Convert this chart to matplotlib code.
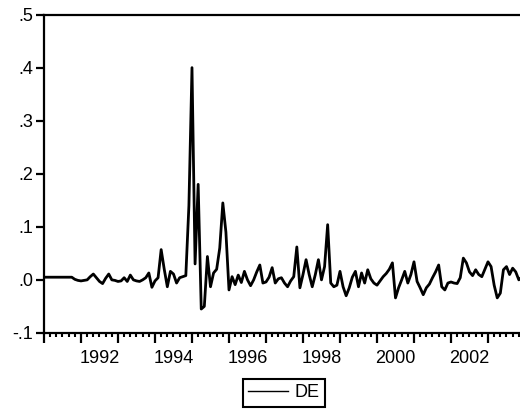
import numpy as np
import matplotlib
matplotlib.use("Agg")
import matplotlib.pyplot as plt
from matplotlib.ticker import FixedLocator

plt.rcParams['font.family'] = ['Liberation Sans', 'DejaVu Sans']

# monthly series DE, 1991M01 - 2003M12
start_year = 1991
de = [
    0.005, 0.005, 0.005, 0.005, 0.005, 0.005, 0.005, 0.005, 0.005, 0.005, 0.001, -0.001,
    -0.002, -0.001, 0.000, 0.006, 0.011, 0.004, -0.003, -0.007, 0.003, 0.011, 0.000, -0.001,
    -0.003, -0.002, 0.004, -0.003, 0.009, 0.000, -0.002, -0.003, 0.000, 0.004, 0.013, -0.014,
    -0.002, 0.004, 0.057, 0.020, -0.013, 0.016, 0.011, -0.006, 0.004, 0.006, 0.008, 0.140,
    0.400, 0.030, 0.180, -0.055, -0.050, 0.044, -0.013, 0.013, 0.020, 0.060, 0.145, 0.090,
    -0.019, 0.006, -0.009, 0.009, -0.005, 0.016, 0.000, -0.011, 0.000, 0.015, 0.028, -0.006,
    -0.004, 0.005, 0.023, -0.006, 0.002, 0.004, -0.006, -0.013, -0.002, 0.006, 0.062, -0.015,
    0.010, 0.038, 0.010, -0.013, 0.010, 0.038, 0.000, 0.025, 0.104, -0.006, -0.013, -0.010,
    0.016, -0.013, -0.030, -0.015, 0.005, 0.016, -0.013, 0.013, -0.006, 0.019, 0.002, -0.006,
    -0.010, -0.002, 0.006, 0.012, 0.020, 0.032, -0.034, -0.015, 0.000, 0.016, -0.006, 0.010,
    0.034, -0.003, -0.015, -0.028, -0.015, -0.008, 0.004, 0.015, 0.028, -0.013, -0.019, -0.006,
    -0.004, -0.006, -0.007, 0.004, 0.041, 0.032, 0.015, 0.008, 0.019, 0.010, 0.006, 0.020,
    0.034, 0.025, -0.010, -0.034, -0.025, 0.019, 0.025, 0.010, 0.022, 0.015, 0.000, 0.006,
]
t = start_year + np.arange(len(de)) / 12.0

year_labels = ['1992', '1994', '1996', '1998', '2000', '2002']
y_ticks = [-0.1, 0.0, 0.1, 0.2, 0.3, 0.4, 0.5]
y_labels = ['-.1', '.0', '.1', '.2', '.3', '.4', '.5']

fig = plt.figure(figsize=(5.2, 4.11), dpi=100)
ax = fig.add_axes([0.0846, 0.19, 0.925, 0.7745])

ax.plot(t, de, color='black', linewidth=2.0, label='DE')

ax.set_xlim(start_year, start_year + 13)
ax.set_ylim(-0.1, 0.5)
ax.set_yticks(y_ticks)
ax.set_yticklabels(y_labels)

# yearly major ticks, small ticks every two months
ax.xaxis.set_major_locator(FixedLocator(np.arange(start_year, start_year + 14)))
ax.xaxis.set_minor_locator(FixedLocator(start_year + np.arange(0, 13 * 6 + 1) / 6.0))
ax.set_xticklabels([])
ax.tick_params(axis='x', which='major', length=7, width=1.6, direction='out')
ax.tick_params(axis='x', which='minor', length=3, width=1.5, direction='out')
ax.tick_params(axis='y', length=6, width=1.6, direction='out', pad=2, labelsize=13)
ax.tick_params(top=False, right=False)

# year labels centred on each year span
sec = ax.secondary_xaxis('bottom')
sec.set_xticks([int(y) + 0.5 for y in year_labels])
sec.set_xticklabels(year_labels)
sec.tick_params(length=0, pad=12, labelsize=13)
sec.spines['bottom'].set_visible(False)

for s in ax.spines.values():
    s.set_linewidth(1.6)
    s.set_color('black')

leg = fig.legend(loc='center', bbox_to_anchor=(0.546, 0.044), fontsize=13,
                 fancybox=False, edgecolor='black', framealpha=1,
                 handlelength=2.2, handletextpad=0.4, borderpad=0.3)
leg.get_frame().set_linewidth(1.5)
leg.get_lines()[0].set_linewidth(1.0)

fig.savefig('out.png', dpi=100)
